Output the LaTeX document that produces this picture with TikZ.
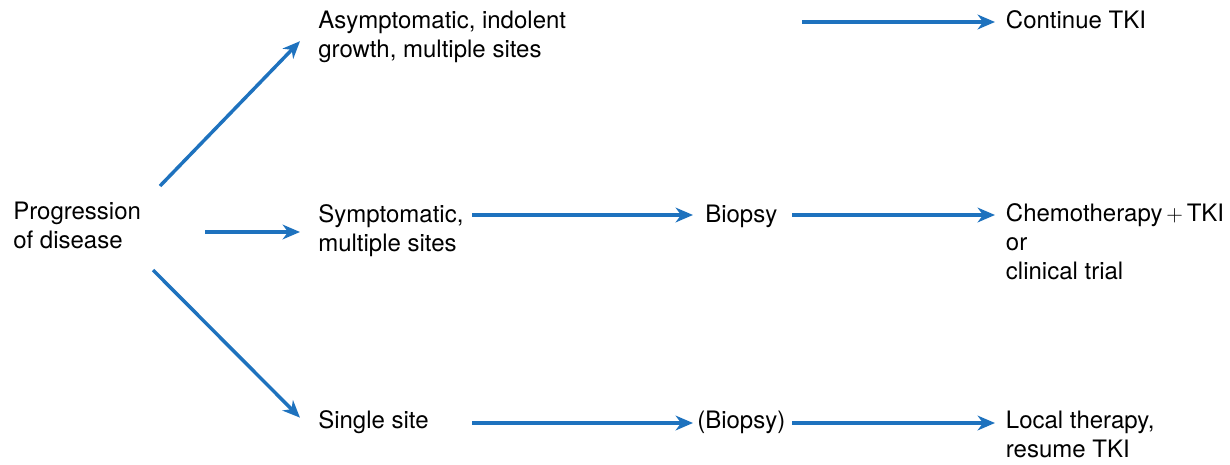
\documentclass[tikz,border=0pt]{standalone}
\usepackage{fontspec}
\setmainfont{TeX Gyre Heros}
\usetikzlibrary{arrows.meta}
\definecolor{flowblue}{RGB}{30,114,190}
\tikzset{
  txt/.style={anchor=base west, inner ysep=0pt, align=left,
    font=\fontsize{18}{21.5}\selectfont},
  flow/.style={draw=flowblue, line width=2.6pt,
    -{Stealth[length=13pt,width=11pt,inset=4pt]}},
}
\begin{document}
\begin{tikzpicture}[x=0.75pt,y=-0.75pt]
  \useasboundingbox (0,0) rectangle (1230,464);

  % texts sit on the baseline of their last line
  % first column
  \node[txt, inner xsep=0pt]    (prog)   at (13,248)  {Progression\\of disease};
  % second column
  \node[txt, inner xsep=13.5pt] (asym)   at (300,57)  {Asymptomatic, indolent\\growth, multiple sites};
  \node[txt, inner xsep=13.5pt] (symp)   at (300,251) {Symptomatic,\\multiple sites};
  \node[txt, inner xsep=13.5pt] (single) at (300,428) {Single site};
  % third column
  \node[txt, inner xsep=9pt]    (biop)   at (693,222) {Biopsy};
  \node[txt, inner xsep=3pt]    (biopb)  at (693,428) {(Biopsy)};
  % last column
  \node[txt, inner xsep=8pt]    (cont)   at (995,28)  {Continue TKI};
  \node[txt, inner xsep=8pt]    (chemo)  at (995,279) {Chemotherapy$\,+\,$TKI\\or\\clinical trial};
  \node[txt, inner xsep=8pt]    (local)  at (995,457) {Local therapy,\\resume TKI};

  % free starts of the arrows
  \coordinate (p1) at (160,186);
  \coordinate (p2) at (205,232);
  \coordinate (p3) at (153,270);
  \coordinate (a1) at (802,22);
  \coordinate (s2) at (472,215);
  \coordinate (b2) at (792,215);
  \coordinate (s3) at (472,423);
  \coordinate (b3) at (792,423);

  \draw[flow] (p1) -- ([yshift=-3.5pt]asym.west);
  \draw[flow] (p2) -- (p2 -| symp.west);
  \draw[flow] (p3) -- ([yshift=3pt]single.west);

  \draw[flow] (a1) -- (a1 -| cont.west);
  \draw[flow] (s2) -- (s2 -| biop.west);
  \draw[flow] (b2) -- (b2 -| chemo.west);
  \draw[flow] (s3) -- (s3 -| biopb.west);
  \draw[flow] (b3) -- (b3 -| local.west);
\end{tikzpicture}
\end{document}
